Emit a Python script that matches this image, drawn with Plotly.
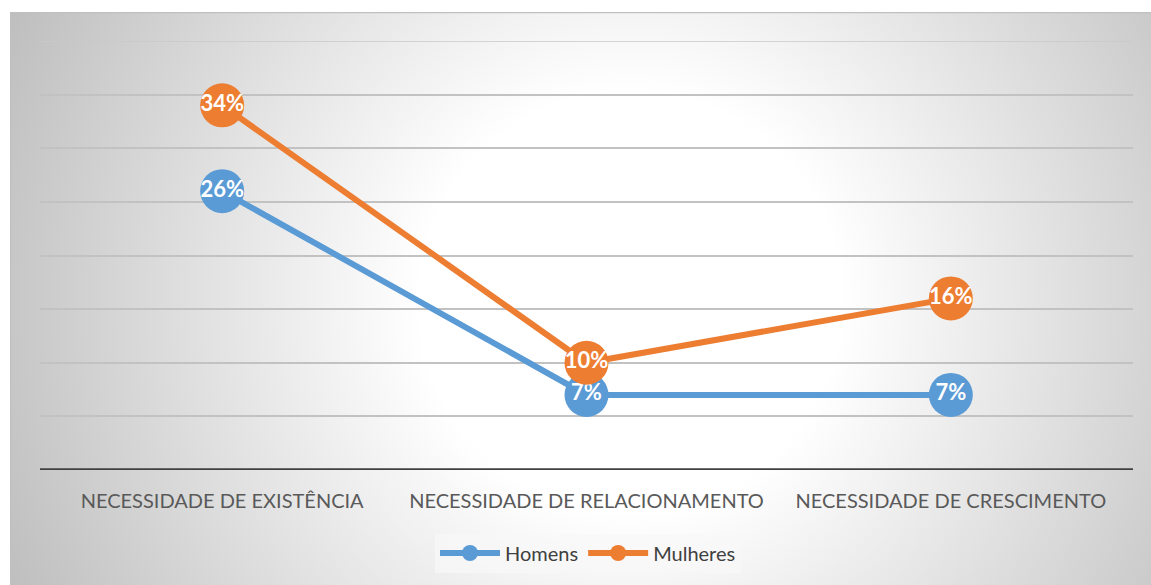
import plotly.graph_objects as go
import urllib.parse

categories = ["NECESSIDADE DE EXISTÊNCIA", "NECESSIDADE DE RELACIONAMENTO", "NECESSIDADE DE CRESCIMENTO"]
homens = [26, 7, 7]
mulheres = [34, 10, 16]
homens_labels = ["26%", "7%", "7%"]
mulheres_labels = ["34%", "10%", "16%"]

BLUE = "#5B9BD5"
ORANGE = "#ED7D31"
FONT = "Lato"

W, H = 1151, 585
L, R, T, B = 40, 1133, 41, 470

svg = f'''<svg xmlns="http://www.w3.org/2000/svg" width="1141" height="573" viewBox="0 0 1141 573" preserveAspectRatio="none">
<defs><radialGradient id="g" gradientUnits="userSpaceOnUse" cx="620" cy="290" r="700">
<stop offset="0" stop-color="#ffffff"/><stop offset="0.30" stop-color="#ffffff"/><stop offset="1" stop-color="#bcbcbc"/>
</radialGradient></defs>
<rect x="0" y="0" width="1141" height="573" fill="url(#g)"/>
<rect x="0.5" y="0.5" width="1145" height="578" fill="none" stroke="#c0c0c0" stroke-width="1.5"/>
</svg>'''
src = "data:image/svg+xml;charset=utf-8," + urllib.parse.quote(svg)

pw, ph = R - L, B - T
def px(x): return (x - L) / pw
def py(y): return (B - y) / ph

fig = go.Figure()
for name, vals, labs, col in [("Homens", homens, homens_labels, BLUE),
                              ("Mulheres", mulheres, mulheres_labels, ORANGE)]:
    fig.add_trace(go.Scatter(
        x=categories, y=vals, name=name, mode="lines+markers+text",
        line=dict(color=col, width=6),
        marker=dict(size=44, color=col),
        text=labs, textposition="middle center",
        textfont=dict(family=FONT, size=22, color="white", weight="bold"),
        cliponaxis=False,
    ))

fig.add_layout_image(dict(
    source=src, xref="paper", yref="paper",
    x=px(10), y=py(12), sizex=(1151 - 10) / pw, sizey=(585 - 12) / ph,
    xanchor="left", yanchor="top", sizing="stretch", layer="below",
))

fig.update_layout(
    width=W, height=H,
    margin=dict(l=L, r=W - R, t=T, b=H - B),
    paper_bgcolor="white", plot_bgcolor="rgba(0,0,0,0)",
    font=dict(family=FONT, color="#595959", size=20),
    showlegend=True,
    legend=dict(orientation="h", x=px(588), xanchor="center", y=py(553), yanchor="middle",
                bgcolor="rgba(248,248,248,0.7)", font=dict(size=20, color="#404040"),
                itemwidth=60, borderwidth=0),
    xaxis=dict(showgrid=False, showline=False, ticks="outside", ticklen=13,
               tickcolor="rgba(0,0,0,0)", tickfont=dict(size=20, color="#595959"),
               range=[-0.5, 2.5]),
    yaxis=dict(range=[0, 40], dtick=5, showticklabels=False, showgrid=True,
               gridcolor="#c2c2c2", gridwidth=1.5, zeroline=False, showline=False, ticks=""),
)
fig.add_shape(type="line", xref="paper", yref="y", x0=0, x1=1, y0=40, y1=40,
              line=dict(color="#c9c9c9", width=1.5), layer="below")
fig.add_shape(type="line", xref="paper", yref="y", x0=0, x1=1, y0=0, y1=0,
              line=dict(color="#404040", width=3.5), layer="below")

fig.write_html("out.html")
